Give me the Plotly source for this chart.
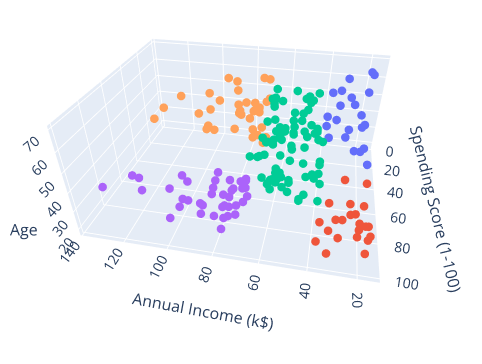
import plotly.graph_objects as go

age = [19,21,20,23,31,22,35,23,64,30,67,35,58,24,37,22,35,20,52,35,35,25,46,31,54,29,45,35,40,23,60,21,53,18,49,21,42,30,36,20,65,24,48,31,49,24,50,27,29,31,49,33,31,59,50,47,51,69,27,53,70,19,67,54,63,18,43,68,19,32,70,47,60,60,59,26,45,40,23,49,57,38,67,46,21,48,55,22,34,50,68,18,48,40,32,24,47,27,48,20,23,49,67,26,49,21,66,54,68,66,65,19,38,19,18,19,63,49,51,50,27,38,40,39,23,31,43,40,59,38,47,39,25,31,20,29,44,32,19,35,57,32,28,32,25,28,48,32,34,34,43,39,44,38,47,27,37,30,34,30,56,29,19,31,50,36,42,33,36,32,40,28,36,36,52,30,58,27,59,35,37,32,46,29,41,30,54,28,41,36,34,32,33,38,47,35,45,32,32,30]
income = [15,15,16,16,17,17,18,18,19,19,19,19,20,20,20,20,21,21,23,23,24,24,25,25,28,28,28,28,29,29,30,30,33,33,33,33,34,34,37,37,38,38,39,39,39,39,40,40,40,40,42,42,43,43,43,43,44,44,46,46,46,46,47,47,48,48,48,48,48,48,49,49,50,50,54,54,54,54,54,54,54,54,54,54,54,54,57,57,58,58,59,59,60,60,60,60,60,60,61,61,62,62,62,62,62,62,63,63,63,63,63,63,64,64,65,65,65,65,67,67,67,67,69,69,70,70,71,71,71,71,71,71,72,72,73,73,73,73,74,74,75,75,76,76,77,77,77,77,78,78,78,78,78,78,78,78,78,78,78,78,79,79,81,81,85,85,86,86,87,87,87,87,87,87,88,88,88,88,93,93,97,97,98,98,99,99,101,101,103,103,103,103,113,113,120,120,126,126,137,137]
score = [39,81,6,77,40,76,6,94,3,72,14,99,15,77,13,79,35,66,29,98,35,73,5,73,14,82,32,61,31,87,4,73,4,92,14,81,17,73,26,75,35,92,36,61,28,65,55,47,42,42,52,60,54,60,45,41,50,46,51,46,56,55,52,59,51,59,50,48,59,47,55,42,49,56,47,54,53,48,52,42,51,55,41,44,57,46,58,55,60,46,55,41,49,40,42,52,47,50,42,49,41,48,59,55,56,42,50,46,43,48,52,54,42,46,48,50,43,59,43,57,56,40,58,91,29,77,35,95,11,75,9,75,34,71,5,88,7,73,10,72,5,93,40,87,12,97,36,74,22,90,17,88,20,76,16,89,1,78,1,73,35,83,5,93,26,75,20,95,27,63,13,75,10,92,13,86,15,69,14,90,32,86,15,88,39,97,24,68,17,85,23,69,8,91,16,79,28,74,18,83]

def cl(i):
    n = i + 1
    if n in (44, 46):
        return 2
    if n <= 46:
        return 1 if (n % 2 == 0 or n == 1) else 0
    if n <= 124:
        return 3 if n == 124 else 2
    if n % 2 == 0:
        return 3
    return 2 if n in (125, 133, 143) else 4

palette = ["#636efa", "#EF553B", "#00cc96", "#ab63fa", "#FFA15A"]
fig = go.Figure()
for c in range(5):
    idx = [i for i in range(len(age)) if cl(i) == c]
    fig.add_trace(go.Scatter3d(x=[income[i] for i in idx], y=[score[i] for i in idx], z=[age[i] for i in idx],
                               mode="markers", marker=dict(color=palette[c], size=5, line=dict(width=0))))
ax = lambda t: dict(title=dict(text=t, font=dict(size=16)), tickfont=dict(size=13))
fig.update_layout(template="plotly", showlegend=False, margin=dict(l=0, r=0, t=0, b=0),
    scene=dict(xaxis=ax("Annual Income (k$)"), yaxis=ax("Spending Score (1-100)"), zaxis=ax("Age"),
               camera=dict(center=dict(x=0.028, y=0, z=-0.285), eye=dict(x=-0.377, y=1.892, z=1.133))))
fig.write_html("out.html")
